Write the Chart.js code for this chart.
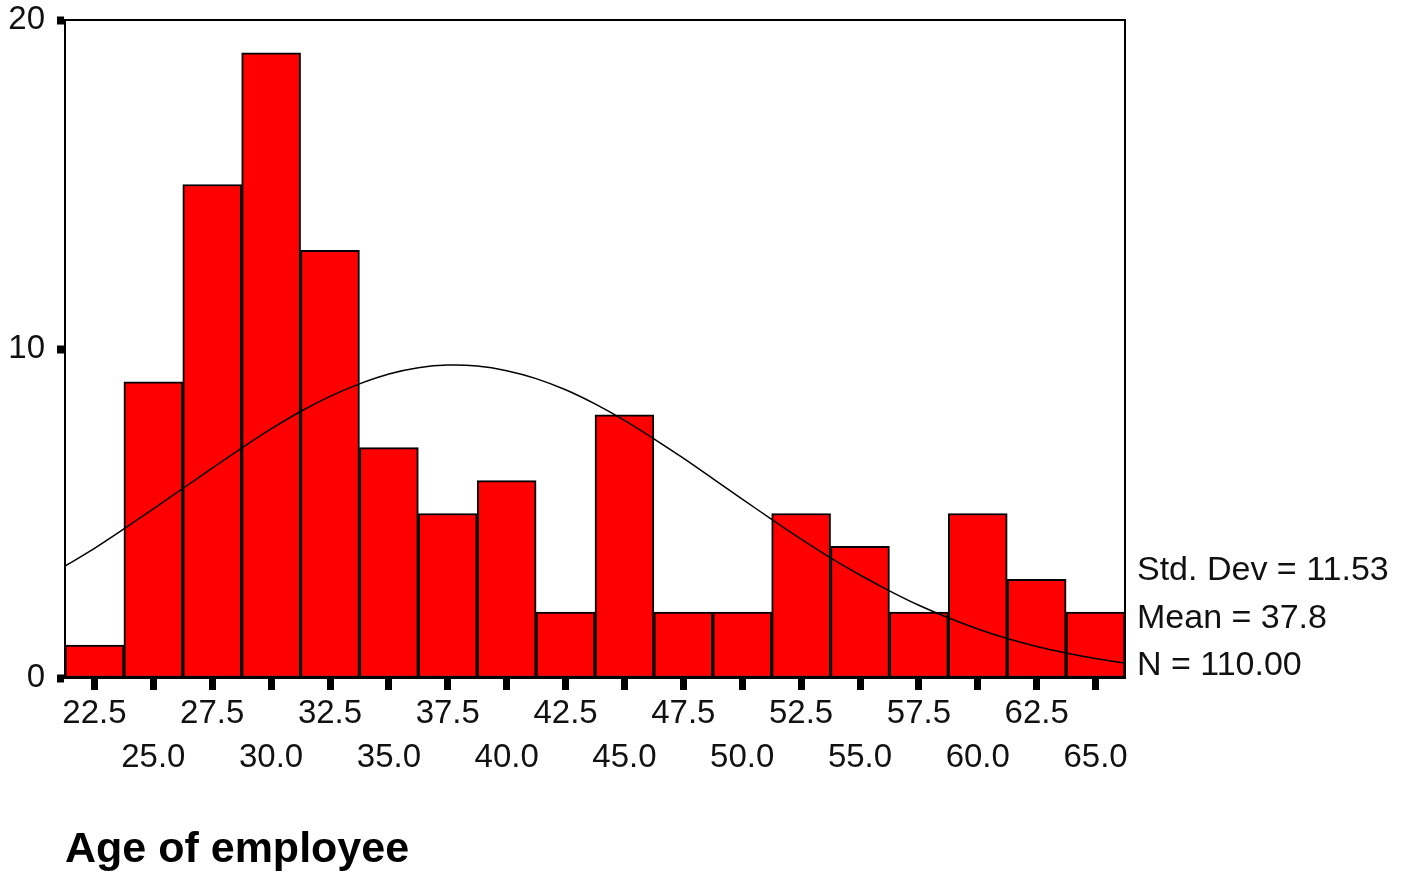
<!DOCTYPE html>
<html>
<head>
<meta charset="utf-8">
<title>Age of employee</title>
<script src="https://cdn.jsdelivr.net/npm/chart.js@4/dist/chart.umd.min.js"></script>
<style>
  html, body { margin: 0; padding: 0; background: #fff; }
  canvas { display: block; }
</style>
</head>
<body>
<canvas id="hist" width="1405" height="877"></canvas>
<script>
// Histogram bins (centre of each 2.5-year bin) and their counts
const binCenters = [22.5, 25.0, 27.5, 30.0, 32.5, 35.0, 37.5, 40.0, 42.5, 45.0, 47.5, 50.0, 52.5, 55.0, 57.5, 60.0, 62.5, 65.0];
const tickLabels = ['22.5', '25.0', '27.5', '30.0', '32.5', '35.0', '37.5', '40.0', '42.5', '45.0', '47.5', '50.0', '52.5', '55.0', '57.5', '60.0', '62.5', '65.0'];
const counts = [1, 9, 15, 19, 13, 7, 5, 6, 2, 8, 2, 2, 5, 4, 2, 5, 3, 2];

// Normal curve overlay
const curveX = [21.25, 22.5, 23.75, 25, 26.25, 27.5, 28.75, 30, 31.25, 32.5, 33.75, 35, 36.25, 37.5, 38.75, 40, 41.25, 42.5, 43.75, 45, 46.25, 47.5, 48.75, 50, 51.25, 52.5, 53.75, 55, 56.25, 57.5, 58.75, 60, 61.25, 62.5, 63.75, 65, 66.25];
const curveY = [3.40, 3.94, 4.53, 5.14, 5.76, 6.38, 6.99, 7.57, 8.10, 8.56, 8.94, 9.24, 9.43, 9.51, 9.48, 9.34, 9.10, 8.76, 8.33, 7.83, 7.27, 6.68, 6.06, 5.44, 4.82, 4.22, 3.65, 3.13, 2.65, 2.21, 1.83, 1.49, 1.20, 0.96, 0.76, 0.59, 0.45];

// Summary statistics
const statLines = ['Std. Dev = 11.53', 'Mean = 37.8', 'N = 110.00'];
const yTicks = [0, 10, 20];
const axisTitle = 'Age of employee';

const FONT = '"Liberation Sans", Arial, sans-serif';

// Plot frame and the statistics block to the right of it
const framePlugin = {
  id: 'frame',
  afterDraw(chart) {
    const { ctx, chartArea: a } = chart;
    ctx.save();
    ctx.strokeStyle = '#000';
    ctx.lineWidth = 2;
    ctx.strokeRect(a.left, a.top, a.right - a.left, a.bottom - a.top);
    ctx.fillStyle = '#111';
    ctx.font = '34px ' + FONT;
    ctx.textAlign = 'left';
    ctx.textBaseline = 'alphabetic';
    statLines.forEach((t, i) => {
      ctx.fillText(t, a.right + 12, 580 + i * 47.5);
    });
    ctx.restore();
  }
};

new Chart(document.getElementById('hist'), {
  type: 'bar',
  data: {
    datasets: [
      {
        type: 'line',
        data: curveX.map((x, i) => ({ x, y: curveY[i] })),
        borderColor: '#000',
        borderWidth: 1.5,
        pointRadius: 0,
        tension: 0.3,
        fill: false,
        order: 0
      },
      {
        type: 'bar',
        data: binCenters.map((x, i) => ({ x, y: counts[i] })),
        backgroundColor: '#ff0000',
        borderColor: '#000',
        borderWidth: 2,
        borderSkipped: false,
        barPercentage: 1,
        categoryPercentage: 1,
        order: 1
      }
    ]
  },
  options: {
    responsive: false,
    animation: false,
    devicePixelRatio: 1,
    layout: { padding: { top: 20, right: 280, bottom: 0, left: 0 } },
    plugins: { legend: { display: false }, tooltip: { enabled: false } },
    scales: {
      x: {
        type: 'linear',
        min: 21.25,
        max: 66.25,
        offset: false,
        afterBuildTicks(scale) {
          scale.ticks = binCenters.map(v => ({ value: v }));
        },
        afterFit(scale) {
          scale.height = 199;
          scale.paddingLeft = 0;
          scale.paddingRight = 0;
        },
        grid: {
          offset: false,
          drawOnChartArea: false,
          tickLength: 12,
          tickWidth: 7,
          tickColor: '#000'
        },
        border: { display: true, color: '#000', width: 2 },
        ticks: {
          autoSkip: false,
          maxRotation: 0,
          padding: 1,
          color: '#111',
          font: { family: FONT, size: 33, lineHeight: 1.36 },
          callback(value, index) {
            const label = tickLabels[index];
            return index % 2 === 0 ? [label, ''] : ['', label];
          }
        },
        title: {
          display: true,
          text: axisTitle,
          align: 'start',
          color: '#000',
          font: { family: FONT, size: 43, weight: 'bold', lineHeight: 1.2 },
          padding: { top: 0, bottom: 1 }
        }
      },
      y: {
        min: 0,
        max: 20,
        afterBuildTicks(scale) {
          scale.ticks = yTicks.map(v => ({ value: v }));
        },
        afterFit(scale) {
          scale.width = 65;
          scale.paddingTop = 0;
          scale.paddingBottom = 0;
        },
        grid: {
          drawOnChartArea: false,
          tickLength: 8,
          tickWidth: 8,
          tickColor: '#000'
        },
        border: { display: true, color: '#000', width: 2 },
        ticks: {
          padding: 12,
          color: '#111',
          font: { family: FONT, size: 33 }
        }
      }
    }
  },
  plugins: [framePlugin]
});
</script>
</body>
</html>
